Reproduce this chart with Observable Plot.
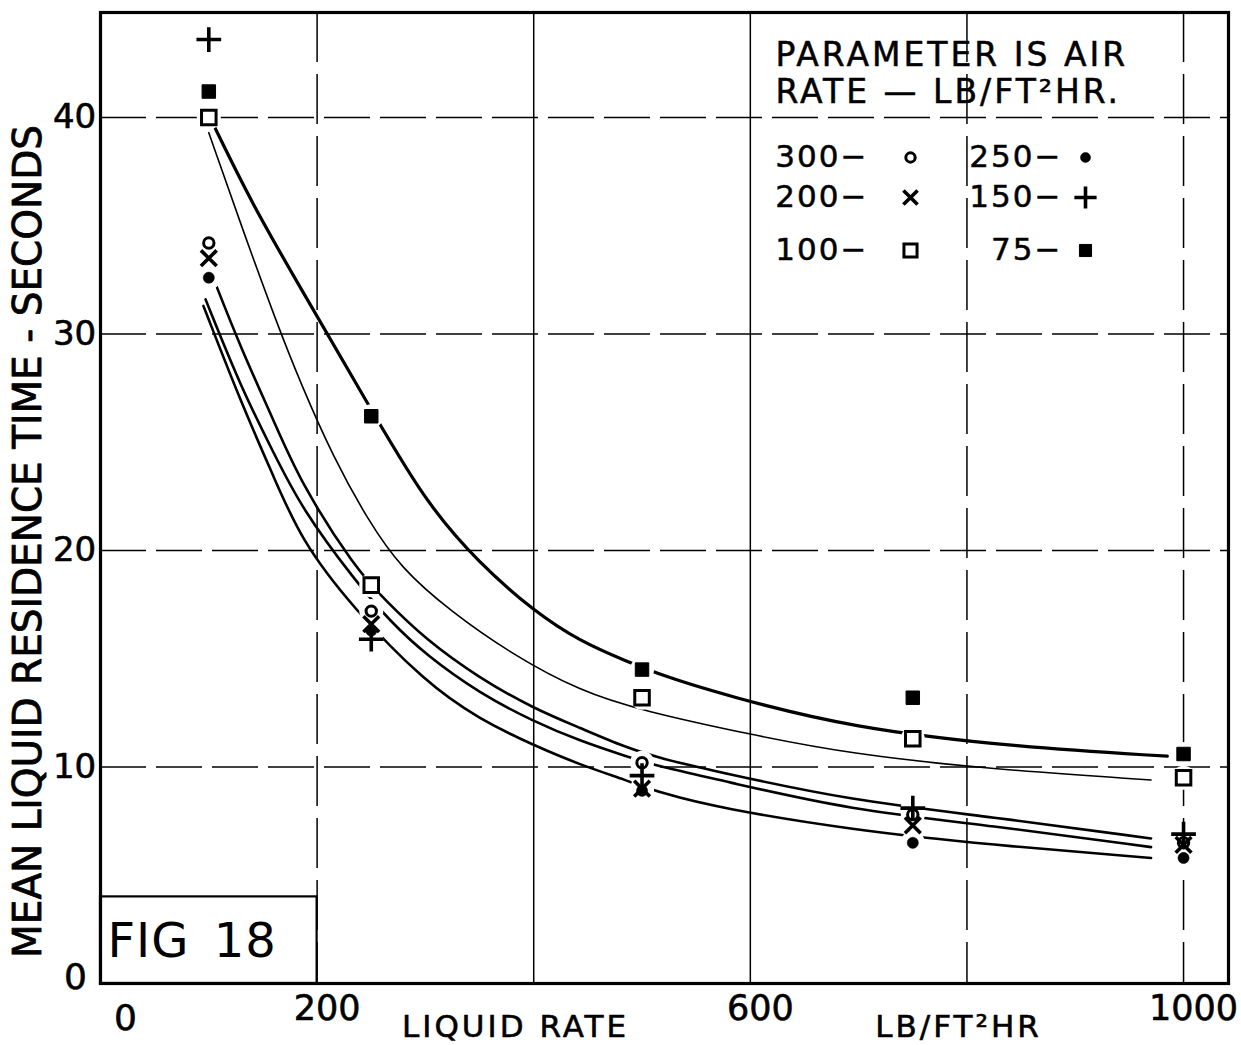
<!DOCTYPE html>
<html><head><meta charset="utf-8">
<script src="https://cdn.jsdelivr.net/npm/d3@7"></script>
<script src="https://cdn.jsdelivr.net/npm/@observablehq/plot@0.6"></script>
<style>
body{margin:0;background:#fff;}
#chart svg{display:block;}
.ls2 text{letter-spacing:2px;}
.ls3 text{letter-spacing:3px;}
.lsfig text{letter-spacing:1px;word-spacing:8px;}
</style></head><body><div id="chart"></div>
<script>
// ---------- data ----------
const liquidRates = [100, 250, 500, 750, 1000];
const air300 = [34.2, 17.2, 10.2, 7.8, 6.5];
const air250 = [32.6, 16.3, 8.9, 6.5, 5.8];
const air200 = [33.5, 16.6, 9.0, 7.3, 6.4];
const air150 = [43.6, 15.9, 9.6, 8.1, 6.9];
const air100 = [40.0, 18.4, 13.2, 11.3, 9.5];
const air75  = [41.2, 26.2, 14.5, 13.2, 10.6];

// drawn curves, [liquid rate, seconds]
const curve75 = [[103,39.8],[140,36.0],[185,32.1],[242,27.2],[300,22.2],[350,19.4],[400,17.2],[443,15.8],[485,14.9],[520,14.2],[578,13.3],[693,11.8],[850,10.9],[985,10.5]];
const curve100 = [[100,39.3],[130,35.0],[162,30.6],[185,27.7],[215,24.3],[247,21.4],[277,19.2],[323,17.2],[380,15.2],[443,13.5],[500,12.6],[600,11.5],[693,10.6],[822,9.9],[970,9.4]];
const curveUpper = [[104,32.6],[130,29.3],[160,26.0],[185,23.1],[235,19.2],[263,17.7],[300,15.9],[350,14.1],[400,12.7],[443,11.8],[485,10.9],[517,10.4],[572,9.75],[693,8.45],[822,7.7],[970,6.7]];
const curveMiddle = [[97,31.6],[130,27.5],[160,24.5],[185,22.0],[235,18.6],[268,16.7],[300,15.2],[350,13.4],[400,12.1],[443,11.2],[485,10.5],[517,10.0],[572,9.4],[693,8.0],[822,7.3],[970,6.3]];
const curveLower = [[95,31.3],[130,26.8],[160,23.4],[185,20.5],[232,17.4],[300,13.9],[350,12.2],[400,11.0],[443,10.1],[485,9.4],[517,8.8],[572,8.1],[693,7.1],[822,6.4],[970,5.8]];

const xTickValues = [200, 600, 1000];
const xTickLabels = ["200", "600", "1000"];
const yTickValues = [10, 20, 30, 40];
const yTickLabels = ["10", "20", "30", "40"];
const zeroLabel = "0";
const gridXSolid = [400, 600];
const gridXDashed = [200, 800, 1000];
const gridY = [10, 20, 30, 40];
const figBox = [{x1: 0, x2: 200, y1: 0, y2: 4}];
const figLabel = "FIG 18";
const xTitle1 = "LIQUID RATE";
const xTitle2 = "LB/FT²HR";
const yTitle = "MEAN LIQUID RESIDENCE TIME - SECONDS";
const legendTitle1 = "PARAMETER IS AIR";
const legendTitle2 = "RATE — LB/FT²HR.";
const airLabels = ["300", "250", "200", "150", "100", "75"];

// ---------- styling ----------
const seriesStyle = [
  {values: air300, symbol: "circle", fill: "white", stroke: "black", sw: 3.0, r: 5.2},
  {values: air250, symbol: "circle", fill: "black", stroke: "black", sw: 0.5, r: 5.6},
  {values: air200, symbol: "times",  fill: "none",  stroke: "black", sw: 3.6, r: 7.2},
  {values: air150, symbol: "plus",   fill: "none",  stroke: "black", sw: 3.6, r: 8.0},
  {values: air100, symbol: "square", fill: "white", stroke: "black", sw: 3.0, r: 8.2},
  {values: air75,  symbol: "square", fill: "black", stroke: "black", sw: 1.0, r: 7.6}
];
const curves = [
  {pts: curve75, w: 3.2},
  {pts: curve100, w: 1.6},
  {pts: curveUpper, w: 2.6},
  {pts: curveMiddle, w: 2.6},
  {pts: curveLower, w: 2.6}
];

const FONT = "DejaVu Sans";
const L = 100, T = 12, B = 983;
// legend layout (pixels)
const legTextEnd = [868, 1062], legSym = [910, 1085], legRowY = [157, 197, 250];

const allPoints = seriesStyle.flatMap(s => liquidRates.map((x, i) => ({x, y: s.values[i]})));
const txt = {fontFamily: FONT, fill: "black", stroke: "black", strokeWidth: 0.6, lineAnchor: "middle"};

const marks = [
  Plot.ruleY(gridY, {stroke: "black", strokeWidth: 1.5, strokeDasharray: "46,10"}),
  Plot.ruleX(gridXSolid, {stroke: "black", strokeWidth: 1.5}),
  Plot.ruleX(gridXDashed, {stroke: "black", strokeWidth: 1.5, strokeDasharray: "50,12"}),
  Plot.rect(figBox, {x1: "x1", x2: "x2", y1: "y1", y2: "y2", fill: "white", stroke: "black", strokeWidth: 2.2}),
  ...curves.map(c => Plot.line(c.pts, {x: d => d[0], y: d => d[1], curve: "basis", stroke: "black", strokeWidth: c.w, strokeLinecap: "round"})),
  Plot.dot(allPoints, {x: "x", y: "y", r: 12, fill: "white", stroke: "none"}),
  ...seriesStyle.map(s => Plot.dot(liquidRates.map((x, i) => ({x, y: s.values[i]})), {
    x: "x", y: "y", symbol: s.symbol, r: s.r, fill: s.fill, stroke: s.stroke, strokeWidth: s.sw
  })),
  Plot.frame({stroke: "black", strokeWidth: 3.2}),
  // tick labels
  Plot.text(yTickValues, {...txt, x: 0, y: d => d, text: (d, i) => yTickLabels[i], dx: -26, fontSize: 34}),
  Plot.text([0], {...txt, x: 0, y: 0, text: () => zeroLabel, dx: -25, dy: -6, fontSize: 36}),
  Plot.text([0], {...txt, x: 0, y: 0, text: () => zeroLabel, dx: 25, dy: 35, fontSize: 36}),
  Plot.text(xTickValues, {...txt, x: d => d, y: 0, text: (d, i) => xTickLabels[i], dx: 10, dy: 25, fontSize: 35}),
  // axis titles
  Plot.text([xTitle1], {...txt, frameAnchor: "bottom-left", textAnchor: "middle", text: d => d, dx: 515 - L, dy: 44, fontSize: 31, className: "ls3"}),
  Plot.text([xTitle2], {...txt, frameAnchor: "bottom-left", textAnchor: "middle", text: d => d, dx: 958 - L, dy: 44, fontSize: 31, className: "ls3"}),
  Plot.text([yTitle], {...txt, frameAnchor: "left", textAnchor: "middle", text: d => d, rotate: -90, dx: 28 - L, dy: 541 - (T + B) / 2, fontSize: 39, strokeWidth: 0.8}),
  // fig label
  Plot.text([figLabel], {...txt, frameAnchor: "bottom-left", textAnchor: "start", text: d => d, dx: 7, dy: 941 - B, fontSize: 48, strokeWidth: 0, className: "lsfig"}),
  // legend
  Plot.text([legendTitle1], {...txt, frameAnchor: "top-left", textAnchor: "start", text: d => d, dx: 775 - L, dy: 55 - T, fontSize: 33, strokeWidth: 0.5, className: "ls3"}),
  Plot.text([legendTitle2], {...txt, frameAnchor: "top-left", textAnchor: "start", text: d => d, dx: 775 - L, dy: 92 - T, fontSize: 33, strokeWidth: 0.5, className: "ls3"}),
  ...airLabels.map((lab, i) => Plot.text([lab + "−"], {...txt, frameAnchor: "top-left", textAnchor: "end", text: d => d,
    dx: legTextEnd[i % 2] - L, dy: legRowY[Math.floor(i / 2)] - T, fontSize: 31, strokeWidth: 0.5, className: "ls2"})),
  ...seriesStyle.map((s, i) => Plot.dot([0], {frameAnchor: "top-left", dx: legSym[i % 2] - L, dy: legRowY[Math.floor(i / 2)] - T,
    symbol: s.symbol, r: s.r * 0.9, fill: s.fill, stroke: s.stroke, strokeWidth: s.sw}))
];

const chart = Plot.plot({
  width: 1241, height: 1045,
  marginLeft: L, marginRight: 13, marginTop: T, marginBottom: 1045 - B,
  x: {domain: [0, 1041.5], axis: null},
  y: {domain: [0, 44.85], axis: null},
  style: {background: "white", color: "black"},
  marks
});
document.getElementById("chart").appendChild(chart);
</script></body></html>
